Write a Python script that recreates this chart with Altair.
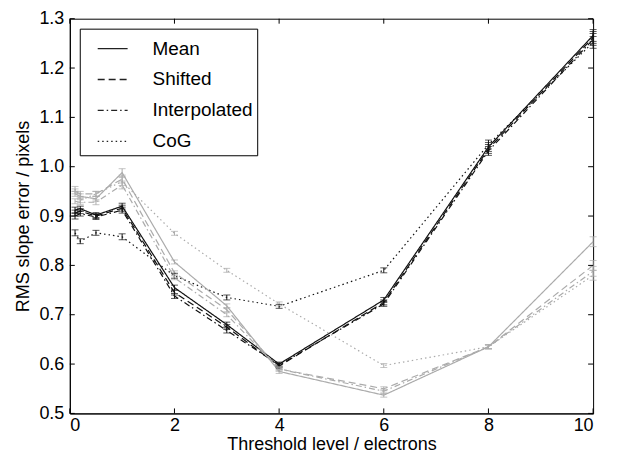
import altair as alt
import pandas as pd

thresholds = [0.1, 0.2, 0.5, 1, 2, 3, 4, 6, 8, 10]
methods = ["Mean", "Shifted", "Interpolated", "CoG"]
groups = ["black", "gray"]

black_mean = [0.912, 0.915, 0.902, 0.920, 0.755, 0.680, 0.600, 0.730, 1.040, 1.266]
black_shifted = [0.906, 0.910, 0.900, 0.916, 0.745, 0.675, 0.596, 0.725, 1.036, 1.262]
black_interp = [0.900, 0.905, 0.898, 0.912, 0.738, 0.668, 0.598, 0.722, 1.032, 1.258]
black_cog = [0.866, 0.849, 0.866, 0.858, 0.779, 0.735, 0.717, 0.790, 1.045, 1.252]

gray_mean = [0.945, 0.940, 0.935, 0.988, 0.807, 0.718, 0.585, 0.537, 0.635, 0.848]
gray_shifted = [0.950, 0.945, 0.945, 0.975, 0.785, 0.710, 0.590, 0.550, 0.635, 0.800]
gray_interp = [0.930, 0.928, 0.928, 0.963, 0.775, 0.700, 0.590, 0.545, 0.635, 0.788]
gray_cog = [0.955, 0.932, 0.945, 0.970, 0.865, 0.790, 0.722, 0.597, 0.635, 0.780]

black_err = [0.006, 0.005, 0.005, 0.006, 0.005, 0.005, 0.004, 0.005, 0.009, 0.012]
gray_err = [0.005, 0.005, 0.005, 0.008, 0.004, 0.004, 0.004, 0.004, 0.004, 0.010]

x_ticks = [0, 2, 4, 6, 8, 10]
y_ticks = [0.5, 0.6, 0.7, 0.8, 0.9, 1.0, 1.1, 1.2, 1.3]

series = {
    ("black", "Mean"): black_mean,
    ("black", "Shifted"): black_shifted,
    ("black", "Interpolated"): black_interp,
    ("black", "CoG"): black_cog,
    ("gray", "Mean"): gray_mean,
    ("gray", "Shifted"): gray_shifted,
    ("gray", "Interpolated"): gray_interp,
    ("gray", "CoG"): gray_cog,
}

rows = []
for (g, m), vals in series.items():
    errs = black_err if g == "black" else gray_err
    for x, v, e in zip(thresholds, vals, errs):
        rows.append({"x": x, "y": v, "lo": v - e, "hi": v + e, "method": m, "group": g})
df = pd.DataFrame(rows)

W, H = 525, 396
FONT = "Liberation Sans"

xscale = alt.Scale(domain=[0, 10], nice=False)
yscale = alt.Scale(domain=[0.5, 1.3], nice=False, zero=False)
common_axis = dict(ticks=False, domain=True, domainColor="black", grid=False,
                   labelFont=FONT, titleFont=FONT, labelFontSize=18, titleFontSize=18,
                   labelColor="black", titleColor="black", titleFontWeight="normal")
xaxis = alt.Axis(values=x_ticks, title="Threshold level / electrons",
                 labelPadding=3, titlePadding=1, **common_axis)
yaxis = alt.Axis(values=y_ticks, format=".1f", title="RMS slope error / pixels",
                 labelPadding=6, titlePadding=6, **common_axis)
color = alt.Color("group:N", scale=alt.Scale(domain=groups, range=["#111111", "#ababab"]), legend=None)

base = alt.Chart(df)

lines = base.mark_line(strokeWidth=1.2).encode(
    x=alt.X("x:Q", scale=xscale, axis=xaxis),
    y=alt.Y("y:Q", scale=yscale, axis=yaxis),
    color=color,
    strokeDash=alt.StrokeDash(
        "method:N",
        sort=methods,
        scale=alt.Scale(domain=methods, range=[[1, 0], [7, 4], [6, 3, 1.5, 3], [1.5, 3]]),
        legend=alt.Legend(title=None, orient="top-left", offset=10, symbolType="stroke",
                          symbolSize=900, symbolStrokeWidth=1.3, symbolStrokeColor="#222222",
                          symbolOffset=13, labelFontSize=19, labelFont=FONT, labelOffset=24,
                          rowPadding=5, padding=4, fillColor="white", strokeColor="black",
                          labelColor="black"),
    ),
    detail="group:N",
)

bars = base.mark_rule(strokeWidth=1).encode(
    x=alt.X("x:Q", scale=xscale, axis=xaxis),
    y=alt.Y("lo:Q", scale=yscale, axis=yaxis),
    y2="hi:Q",
    color=color,
)
caps_lo = base.mark_tick(orient="horizontal", size=7, thickness=1).encode(
    x=alt.X("x:Q", scale=xscale, axis=xaxis), y=alt.Y("lo:Q", scale=yscale, axis=yaxis), color=color)
caps_hi = base.mark_tick(orient="horizontal", size=7, thickness=1).encode(
    x=alt.X("x:Q", scale=xscale, axis=xaxis), y=alt.Y("hi:Q", scale=yscale, axis=yaxis), color=color)

xt = alt.Chart(pd.DataFrame({"t": x_ticks}))
yt = alt.Chart(pd.DataFrame({"t": y_ticks}))
tick_b = xt.mark_rule(color="black", strokeWidth=1).encode(
    x=alt.X("t:Q", scale=xscale, axis=xaxis), y=alt.value(H), y2=alt.value(H - 5))
tick_t = xt.mark_rule(color="black", strokeWidth=1).encode(
    x=alt.X("t:Q", scale=xscale, axis=xaxis), y=alt.value(0), y2=alt.value(5))
tick_l = yt.mark_rule(color="black", strokeWidth=1).encode(
    y=alt.Y("t:Q", scale=yscale, axis=yaxis), x=alt.value(0), x2=alt.value(5))
tick_r = yt.mark_rule(color="black", strokeWidth=1).encode(
    y=alt.Y("t:Q", scale=yscale, axis=yaxis), x=alt.value(W), x2=alt.value(W - 5))

chart = alt.layer(lines, bars, caps_lo, caps_hi, tick_b, tick_t, tick_l, tick_r).properties(
    width=W, height=H,
    background="white",
    autosize=alt.AutoSizeParams(type="none"),
    padding={"left": 62, "top": 10, "right": 30, "bottom": 44},
).configure_view(
    stroke="black", strokeWidth=1
)

chart.save("out.html", embed_options={"renderer": "svg", "actions": False})
